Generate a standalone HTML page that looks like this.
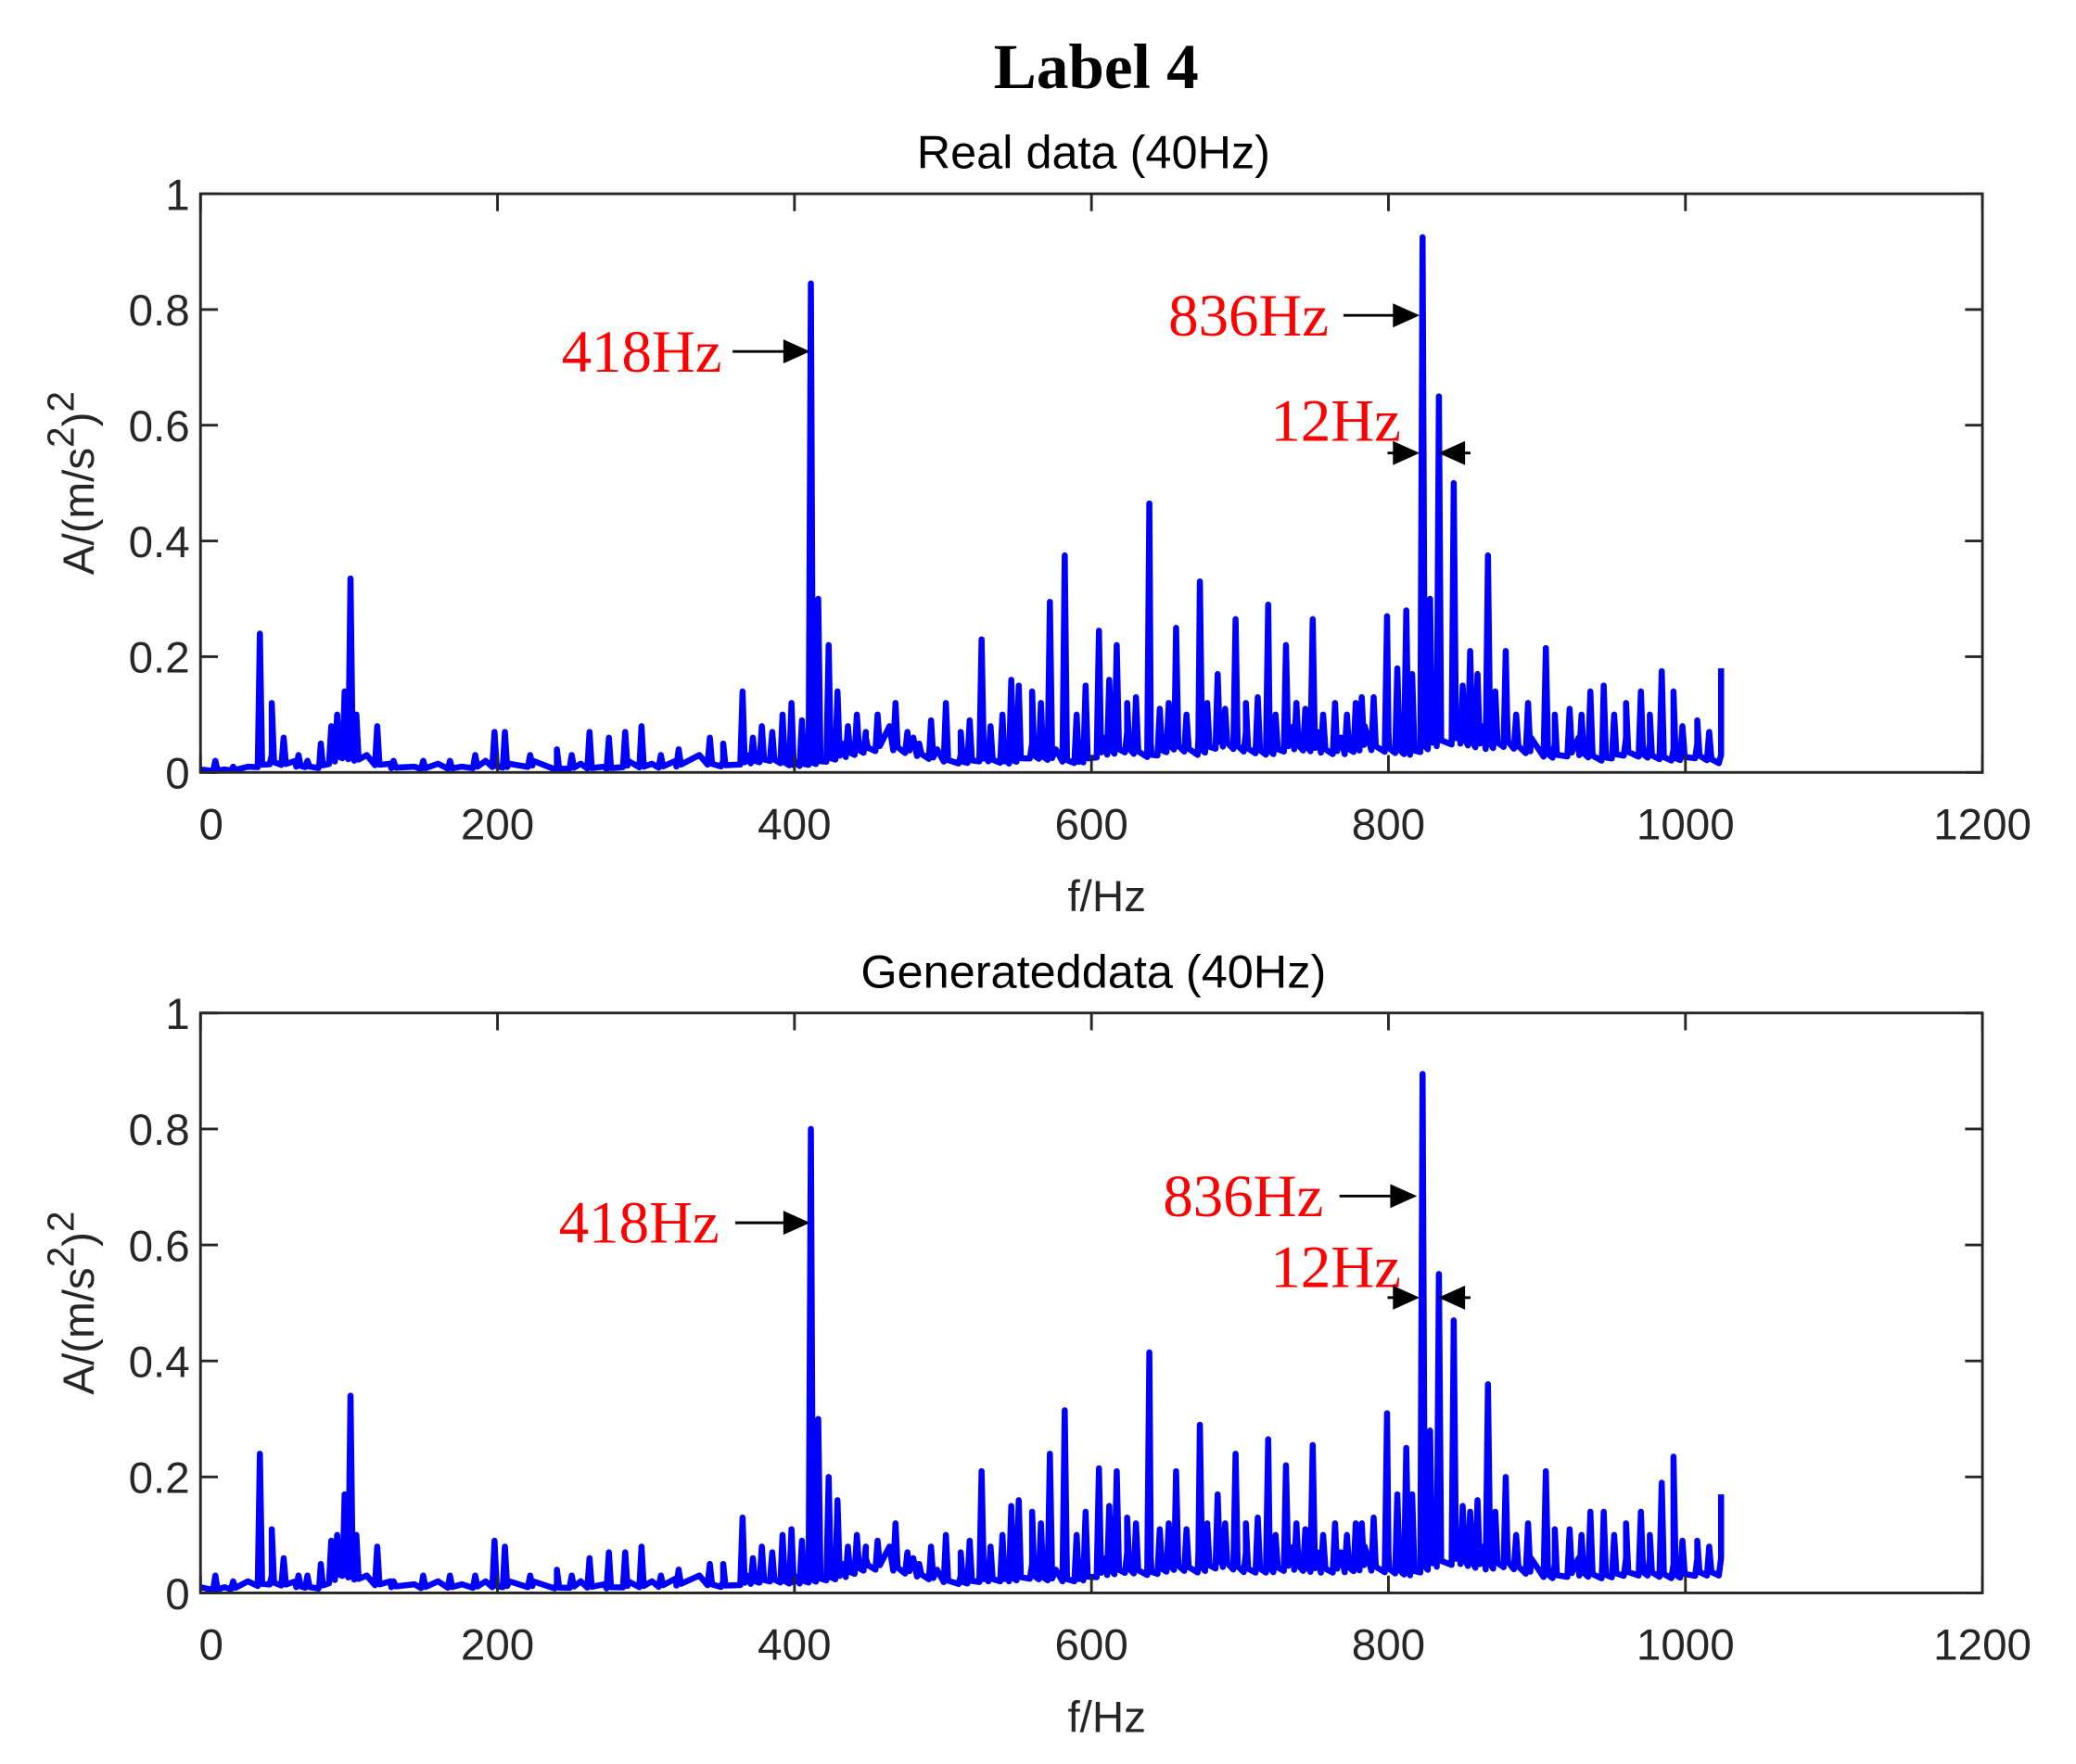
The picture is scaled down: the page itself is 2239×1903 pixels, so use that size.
<!DOCTYPE html>
<html><head><meta charset="utf-8"><style>
html,body{margin:0;padding:0;background:#fff;}
svg{display:block;}
.tk{font-family:"Liberation Sans",sans-serif;font-size:33px;fill:#262626;}
.ann{font-family:"Liberation Serif",serif;font-size:45px;fill:#ff0000;}
</style></head><body>
<svg id="fig" width="2239" height="1903" viewBox="0 0 1553 1320" preserveAspectRatio="none">
<text x="820" y="66" text-anchor="middle" font-family="Liberation Serif,serif" font-weight="bold" font-size="48">Label 4</text>
<g id="p1"></g>
<g id="p2"></g>
</svg>
<script>
const peakFreqs = [40,48,56,81,97,101,105,119,198,205,240,262,275,286,297,343,365,385,405,411,423,429,456,468,502,526,551,560,572,582,605,617,639,657,673,685,697,719,731,749,782,799,816,823,834,844,855,867,879,906,936,945,970,984,992,1024];
const realAmps = [0.24,0.12,0.06,0.05,0.14,0.335,0.10,0.08,0.07,0.07,0.04,0.07,0.06,0.07,0.08,0.06,0.14,0.07,0.09,0.845,0.22,0.14,0.10,0.12,0.12,0.23,0.15,0.14,0.295,0.375,0.245,0.22,0.465,0.25,0.33,0.17,0.265,0.29,0.22,0.265,0.13,0.27,0.17,0.925,0.65,0.50,0.21,0.375,0.21,0.215,0.14,0.15,0.14,0.175,0.14,0.18];
const genAmps = [0.24,0.11,0.06,0.05,0.17,0.34,0.10,0.08,0.09,0.08,0.04,0.06,0.07,0.07,0.08,0.05,0.13,0.07,0.09,0.80,0.20,0.16,0.09,0.12,0.10,0.21,0.16,0.14,0.24,0.315,0.215,0.21,0.415,0.21,0.29,0.17,0.24,0.265,0.22,0.255,0.12,0.31,0.17,0.895,0.55,0.47,0.14,0.36,0.20,0.21,0.14,0.14,0.14,0.19,0.235,0.17];
// minor ripple peaks
const minorFreqs = [10,22,66,72,88,92,130,150,168,185,222,250,310,322,352,372,378,392,398,416,436,442,448,476,484,492,512,518,532,540,546,566,590,596,612,624,630,646,652,664,678,690,704,712,724,738,744,756,764,772,778,790,806,812,828,850,860,872,886,894,912,922,930,952,960,976,998,1008,1016];
const realMinor = [0.02,0.01,0.03,0.02,0.08,0.1,0.02,0.02,0.02,0.03,0.03,0.03,0.03,0.04,0.05,0.06,0.08,0.1,0.12,0.3,0.08,0.1,0.06,0.07,0.05,0.09,0.07,0.09,0.08,0.1,0.16,0.12,0.1,0.15,0.16,0.12,0.13,0.11,0.12,0.1,0.12,0.11,0.12,0.13,0.1,0.12,0.11,0.1,0.12,0.1,0.12,0.13,0.18,0.28,0.3,0.15,0.17,0.14,0.1,0.12,0.1,0.11,0.1,0.1,0.12,0.1,0.08,0.09,0.07];
const genMinor = [0.03,0.02,0.03,0.03,0.09,0.1,0.02,0.03,0.03,0.03,0.03,0.03,0.03,0.04,0.05,0.06,0.08,0.1,0.11,0.3,0.08,0.1,0.06,0.07,0.05,0.08,0.07,0.09,0.08,0.1,0.15,0.12,0.1,0.14,0.15,0.13,0.12,0.11,0.12,0.11,0.12,0.12,0.12,0.13,0.1,0.12,0.11,0.1,0.12,0.1,0.12,0.13,0.17,0.25,0.28,0.15,0.16,0.14,0.1,0.12,0.11,0.11,0.1,0.1,0.12,0.1,0.09,0.09,0.08];
const realBase = [0.005,0.005,0.01,0.03,0.02,0.015,0.05,0.03,0.015,0.01,0.015,0.01,0.02,0.015,0.02,0.01,0.015,0.01,0.02,0.015,0.02,0.03,0.02,0.03,0.04,0.02,0.03,0.05,0.07,0.08,0.06,0.04,0.03,0.04,0.03,0.05,0.04,0.03,0.06,0.07,0.05,0.08,0.06,0.09,0.07,0.06,0.08,0.07,0.06,0.08,0.07,0.06,0.09,0.1,0.08,0.09,0.06,0.05,0.06,0.04,0.06,0.05,0.04,0.05,0.03];
const genBase = [0.01,0.01,0.02,0.03,0.02,0.015,0.06,0.03,0.02,0.015,0.02,0.015,0.02,0.02,0.02,0.015,0.02,0.015,0.02,0.02,0.025,0.03,0.02,0.03,0.04,0.03,0.04,0.05,0.08,0.08,0.06,0.04,0.03,0.04,0.04,0.05,0.04,0.04,0.06,0.07,0.06,0.08,0.07,0.09,0.07,0.07,0.08,0.07,0.07,0.08,0.07,0.06,0.09,0.1,0.08,0.09,0.06,0.05,0.06,0.05,0.06,0.06,0.05,0.06,0.06];
const xTicks = [0,200,400,600,800,1000,1200];
const yTicks = [0,0.2,0.4,0.6,0.8,1];
const yTickLabels = ['0','0.2','0.4','0.6','0.8','1'];

const NS='http://www.w3.org/2000/svg';
function mk(tag,attrs,parent){const e=document.createElementNS(NS,tag);for(const k in attrs)e.setAttribute(k,attrs[k]);parent.appendChild(e);return e;}

function panel(g,top,bottom,title,base,amps,minor,ann){
  const L=150,R=1483;
  const X=f=>L+(R-L)*f/1200, Y=a=>bottom-(bottom-top)*a;
  const t=mk('text',{x:818,y:top-19,'text-anchor':'middle','font-family':'Liberation Sans,sans-serif','font-size':35},g);
  t.textContent=title;
  
  
  const bAt=f=>{const i=Math.max(0,f)/16,i0=Math.min(base.length-1,Math.floor(i)),i1=Math.min(base.length-1,i0+1);return base[i0]+(base[i1]-base[i0])*(i-i0);};
  const events=[];
  for(let k=0;k<base.length;k++) events.push([k*16,base[k]]);
  const addPeak=(f,a)=>{events.push([f-1.5,bAt(f-1.5)*0.5]);events.push([f,a]);events.push([f+1.5,bAt(f+1.5)*0.6]);};
  peakFreqs.forEach((f,i)=>addPeak(f,amps[i]));
  minorFreqs.forEach((f,i)=>addPeak(f,minor[i]));
  events.sort((a,b)=>a[0]-b[0]);
  const d=events.filter(e=>e[0]>=0&&e[0]<=1024).map((e,i)=>(i?'L':'M')+X(e[0]).toFixed(1)+' '+Y(e[1]).toFixed(1)).join(' ');
  const p=mk('path',{d:d,fill:'none',stroke:'#0000ff','stroke-width':4.5,'stroke-linejoin':'round'},g);
  
  
  const box=mk('rect',{x:L,y:top,width:R-L,height:bottom-top,fill:'none',stroke:'#262626','stroke-width':2},g);
  
  
  xTicks.forEach(v=>{
    mk('line',{x1:X(v),x2:X(v),y1:bottom,y2:bottom-13,stroke:'#262626','stroke-width':2},g);
    mk('line',{x1:X(v),x2:X(v),y1:top,y2:top+13,stroke:'#262626','stroke-width':2},g);
    const tl=mk('text',{x:X(v)+(v===0?8:0),y:bottom+50,'text-anchor':'middle',class:'tk'},g);
    tl.textContent=v;
    
    
  });
  yTicks.forEach((v,i)=>{
    mk('line',{x1:L,x2:L+13,y1:Y(v),y2:Y(v),stroke:'#262626','stroke-width':2},g);
    mk('line',{x1:R,x2:R-13,y1:Y(v),y2:Y(v),stroke:'#262626','stroke-width':2},g);
    const tl=mk('text',{x:L-8,y:Y(v)+12,'text-anchor':'end',class:'tk'},g);
    tl.textContent=yTickLabels[i];
    
    
  });
  const xl=mk('text',{x:828,y:bottom+104,'text-anchor':'middle',class:'tk','font-size':36},g);
  xl.textContent='f/Hz';
  
  
  const cy=(top+bottom)/2;
  const yl=mk('text',{x:0,y:0,transform:`translate(70 ${cy}) rotate(-90)`,'text-anchor':'middle',class:'tk','font-size':36},g);
  yl.innerHTML='A/(m/s<tspan dy="-15" font-size="28">2</tspan><tspan dy="15">)</tspan><tspan dy="-15" font-size="28">2</tspan>';
  
  
  const arrow=(x1,x2,y)=>{const dir=Math.sign(x2-x1);
    mk('line',{x1:x1,x2:x2-dir*14,y1:y,y2:y,stroke:'#000','stroke-width':2},g);
    mk('polygon',{points:`${x2},${y} ${x2-dir*20},${y-9} ${x2-dir*20},${y+9}`,fill:'#000'},g);};
  ann.forEach(a=>{
    const tx=mk('text',{x:a.tx,y:a.ty,'text-anchor':'end',class:'ann'},g);
    tx.textContent=a.text;
    
    
    a.arrows.forEach(r=>arrow(r[0],r[1],r[2]));
  });
}
panel(document.getElementById('p1'),145,578,'Real data (40Hz)',realBase,realAmps,realMinor,[
 {text:'418Hz',tx:540,ty:278,arrows:[[548,606,263]]},
 {text:'836Hz',tx:994,ty:251,arrows:[[1005,1062,236]]},
 {text:'12Hz',tx:1048,ty:330,arrows:[[1038,1062,339],[1100,1076,339]]}]);
panel(document.getElementById('p2'),758,1192,'Generateddata (40Hz)',genBase,genAmps,genMinor,[
 {text:'418Hz',tx:538,ty:930,arrows:[[550,606,915]]},
 {text:'836Hz',tx:990,ty:910,arrows:[[1002,1060,895]]},
 {text:'12Hz',tx:1048,ty:963,arrows:[[1038,1062,971],[1100,1076,971]]}]);
</script>
</body></html>
